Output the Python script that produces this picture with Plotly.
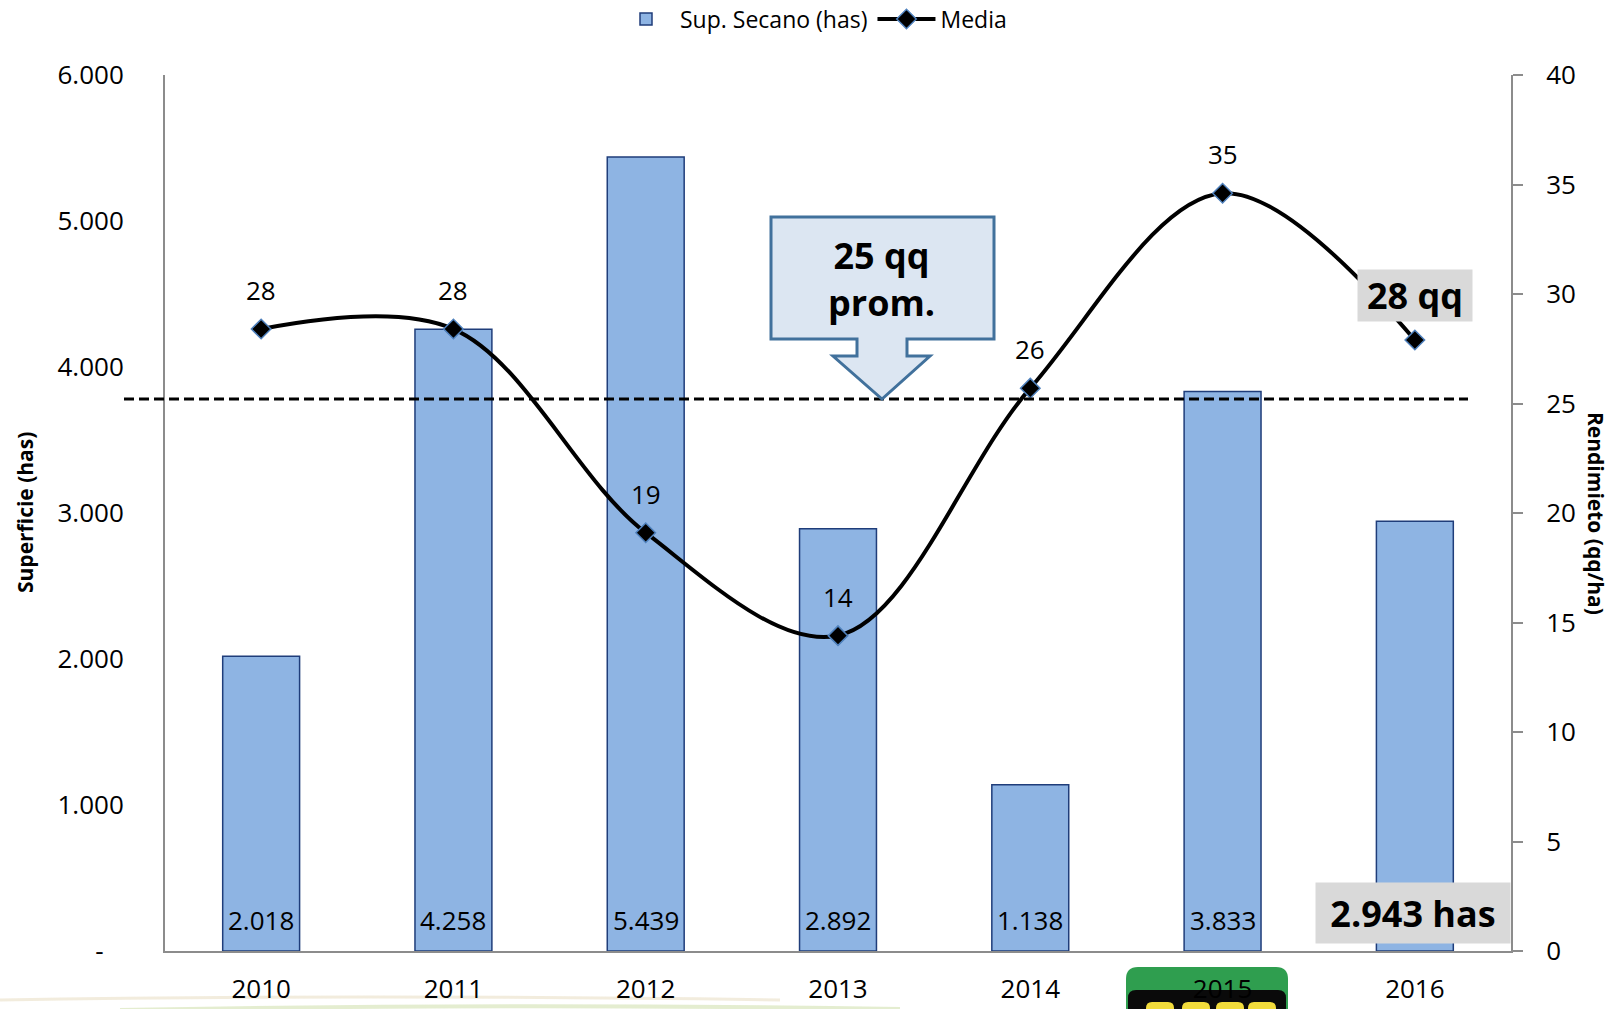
import plotly.graph_objects as go

# ---- data ----
years = [2010, 2011, 2012, 2013, 2014, 2015, 2016]
superficie = [2018, 4258, 5439, 2892, 1138, 3833, 2943]      # Sup. Secano (has)
rendimiento = [28.4, 28.4, 19.1, 14.4, 25.7, 34.6, 27.9]      # Media (qq/ha)
promedio = 25.2                                              # rendimiento promedio
left_ticks = [0, 1000, 2000, 3000, 4000, 5000, 6000]
left_ticktext = ["-\u00a0\u00a0\u00a0", "1.000", "2.000", "3.000", "4.000", "5.000", "6.000"]

# ---- page / plot geometry ----
W, H = 1619, 1009
ML, MR, MT, MB = 165, 108, 75, 58
PW, PH = W - ML - MR, H - MT - MB
Y2_MAX = 40
Y2_PX = PH / Y2_MAX

FONT = "Open Sans"
GREY = "#8c8c8c"


def px_x(px):
    """page pixel x -> paper x"""
    return (px - ML) / PW


def px_y(py):
    """page pixel y -> paper y"""
    return (H - MB - py) / PH


def miles(v):
    return f"{v:,}".replace(",", ".")


fig = go.Figure()

fig.add_trace(go.Bar(
    x=years, y=superficie, name="Sup. Secano (has)",
    marker=dict(color="#8eb4e3", line=dict(color="#1f3d7a", width=1.5)),
    width=0.4, hoverinfo="x+y",
))

fig.add_trace(go.Scatter(
    x=years, y=rendimiento, name="Media", yaxis="y2",
    mode="lines+markers",
    line=dict(color="black", width=4, shape="spline", smoothing=1.0),
    marker=dict(symbol="diamond", size=15, color="black",
                line=dict(color="#4f81bd", width=1.5)),
))

annotations = []

# bar values at the base of each bar (last one goes in the highlighted box)
for yr, v in zip(years[:-1], superficie[:-1]):
    annotations.append(dict(
        x=yr, y=0, xref="x", yref="y", yanchor="middle", yshift=31,
        text=miles(v), showarrow=False, font=dict(family=FONT, size=26, color="black"),
    ))
annotations.append(dict(
    x=years[-1], y=0, xref="x", yref="y", yanchor="middle", yshift=38, xshift=-2,
    text=f"<b>{miles(superficie[-1])} has</b>", showarrow=False,
    bgcolor="#d9d9d9", width=186, height=52, borderpad=4,
    font=dict(family=FONT, size=36, color="black"),
))

# yield labels above the points (last one goes in the highlighted box)
for yr, v in zip(years[:-1], rendimiento[:-1]):
    annotations.append(dict(
        x=yr, y=v, xref="x", yref="y2", yanchor="middle", yshift=39,
        text=f"{v:.0f}", showarrow=False, font=dict(family=FONT, size=26, color="black"),
    ))
annotations.append(dict(
    x=years[-1], y=rendimiento[-1], xref="x", yref="y2", yanchor="middle", yshift=44,
    text=f"<b>{rendimiento[-1]:.0f} qq</b>", showarrow=False,
    bgcolor="#d9d9d9", width=106, height=43, borderpad=4,
    font=dict(family=FONT, size=36, color="black"),
))

# callout text for the average line
annotations.append(dict(
    x=px_x(881), y=promedio + (400 - 280) / Y2_PX, xref="paper", yref="y2",
    text=f"<b>{promedio:.0f} qq<br>prom.</b>", showarrow=False, align="center",
    font=dict(family=FONT, size=36, color="black"),
))

# axis titles
annotations.append(dict(
    x=px_x(25), y=0.5, xref="paper", yref="paper", textangle=-90,
    xanchor="center", yanchor="middle",
    text="<b>Superficie (has)</b>", showarrow=False,
    font=dict(family=FONT, size=21, color="black"),
))
annotations.append(dict(
    x=px_x(1596), y=0.5, xref="paper", yref="paper", textangle=90,
    xanchor="center", yanchor="middle",
    text="<b>Rendimieto (qq/ha)</b>", showarrow=False,
    font=dict(family=FONT, size=21, color="black"),
))

shapes = []

# dashed average line
shapes.append(dict(
    type="line", xref="paper", yref="y2",
    x0=px_x(124), x1=px_x(1468), y0=promedio, y1=promedio,
    line=dict(color="black", width=3, dash="10px,5px"), layer="above",
))

# down-arrow callout pointing at the average line (offsets in px above the tip)
def cpt(px, above):
    return f"{px_x(px):.5f},{promedio + above / Y2_PX:.5f}"

callout = ("M " + " L ".join([
    cpt(771, 182), cpt(994, 182), cpt(994, 60), cpt(907, 60), cpt(907, 43),
    cpt(930, 43), cpt(882, 0), cpt(833, 43), cpt(857, 43), cpt(857, 60), cpt(771, 60),
]) + " Z")
shapes.append(dict(
    type="path", xref="paper", yref="y2", path=callout,
    fillcolor="#dce6f2", line=dict(color="#41719c", width=3), layer="above",
))

# logo peeking in at the bottom edge
def rr(x0, y0, x1, y1, r):
    return (f"M {px_x(x0 + r)},{px_y(y0)} L {px_x(x1 - r)},{px_y(y0)} "
            f"Q {px_x(x1)},{px_y(y0)} {px_x(x1)},{px_y(y0 + r)} "
            f"L {px_x(x1)},{px_y(y1)} L {px_x(x0)},{px_y(y1)} "
            f"L {px_x(x0)},{px_y(y0 + r)} Q {px_x(x0)},{px_y(y0)} {px_x(x0 + r)},{px_y(y0)} Z")

shapes.append(dict(type="path", xref="paper", yref="paper", path=rr(1126, 967, 1288, 1012, 12),
                   fillcolor="#2f9e4f", line=dict(width=0), layer="below"))
shapes.append(dict(type="path", xref="paper", yref="paper", path=rr(1128, 990, 1286, 1012, 8),
                   fillcolor="#0a0a0a", line=dict(width=0), layer="below"))
for cx in (1160, 1196, 1230, 1262):
    shapes.append(dict(type="path", xref="paper", yref="paper",
                       path=rr(cx - 14, 1002, cx + 14, 1012, 6),
                       fillcolor="#f2dc3c", line=dict(width=0), layer="below"))

# faint decorative swoosh along the bottom of the slide
shapes.append(dict(type="path", xref="paper", yref="paper",
                   path=f"M {px_x(0)},{px_y(1000)} Q {px_x(350)},{px_y(994)} {px_x(780)},{px_y(1000)}",
                   line=dict(color="rgba(222,208,170,0.4)", width=3), layer="below"))
shapes.append(dict(type="path", xref="paper", yref="paper",
                   path=f"M {px_x(120)},{px_y(1010)} Q {px_x(500)},{px_y(1003)} {px_x(900)},{px_y(1009)}",
                   line=dict(color="rgba(165,195,100,0.3)", width=4), layer="below"))

fig.update_layout(
    width=W, height=H, autosize=False,
    margin=dict(l=ML, r=MR, t=MT, b=MB, pad=0, autoexpand=False),
    paper_bgcolor="white", plot_bgcolor="white",
    separators=",.",
    font=dict(family=FONT, size=26, color="black"),
    showlegend=True,
    legend=dict(orientation="h", xref="container", yref="container",
                x=812 / W, xanchor="center", y=1 - 19 / H, yanchor="middle",
                font=dict(family=FONT, size=23, color="black"),
                itemwidth=58, entrywidthmode="pixels",
                bgcolor="rgba(0,0,0,0)", tracegroupgap=0),
    xaxis=dict(
        range=[2009.5, 2016.5], tickmode="array", tickvals=years,
        ticktext=[str(y) for y in years], showgrid=False, zeroline=False,
        showline=True, linecolor=GREY, linewidth=2, ticks="", automargin=False,
        tickfont=dict(family=FONT, size=26, color="black"), ticklabelstandoff=14,
    ),
    yaxis=dict(
        range=[0, 6000], tickvals=left_ticks, ticktext=left_ticktext, automargin=False,
        showgrid=False, zeroline=False, showline=True, linecolor=GREY, linewidth=2,
        ticks="", tickfont=dict(family=FONT, size=26, color="black"), ticklabelstandoff=34,
    ),
    yaxis2=dict(
        overlaying="y", side="right", range=[0, Y2_MAX], dtick=5, tick0=0, automargin=False,
        showgrid=False, zeroline=False, showline=True, linecolor=GREY, linewidth=2,
        ticks="outside", ticklen=10, tickwidth=2, tickcolor=GREY,
        tickfont=dict(family=FONT, size=26, color="black"), ticklabelstandoff=18,
    ),
    annotations=annotations,
    shapes=shapes,
)

fig.write_html("out.html")
